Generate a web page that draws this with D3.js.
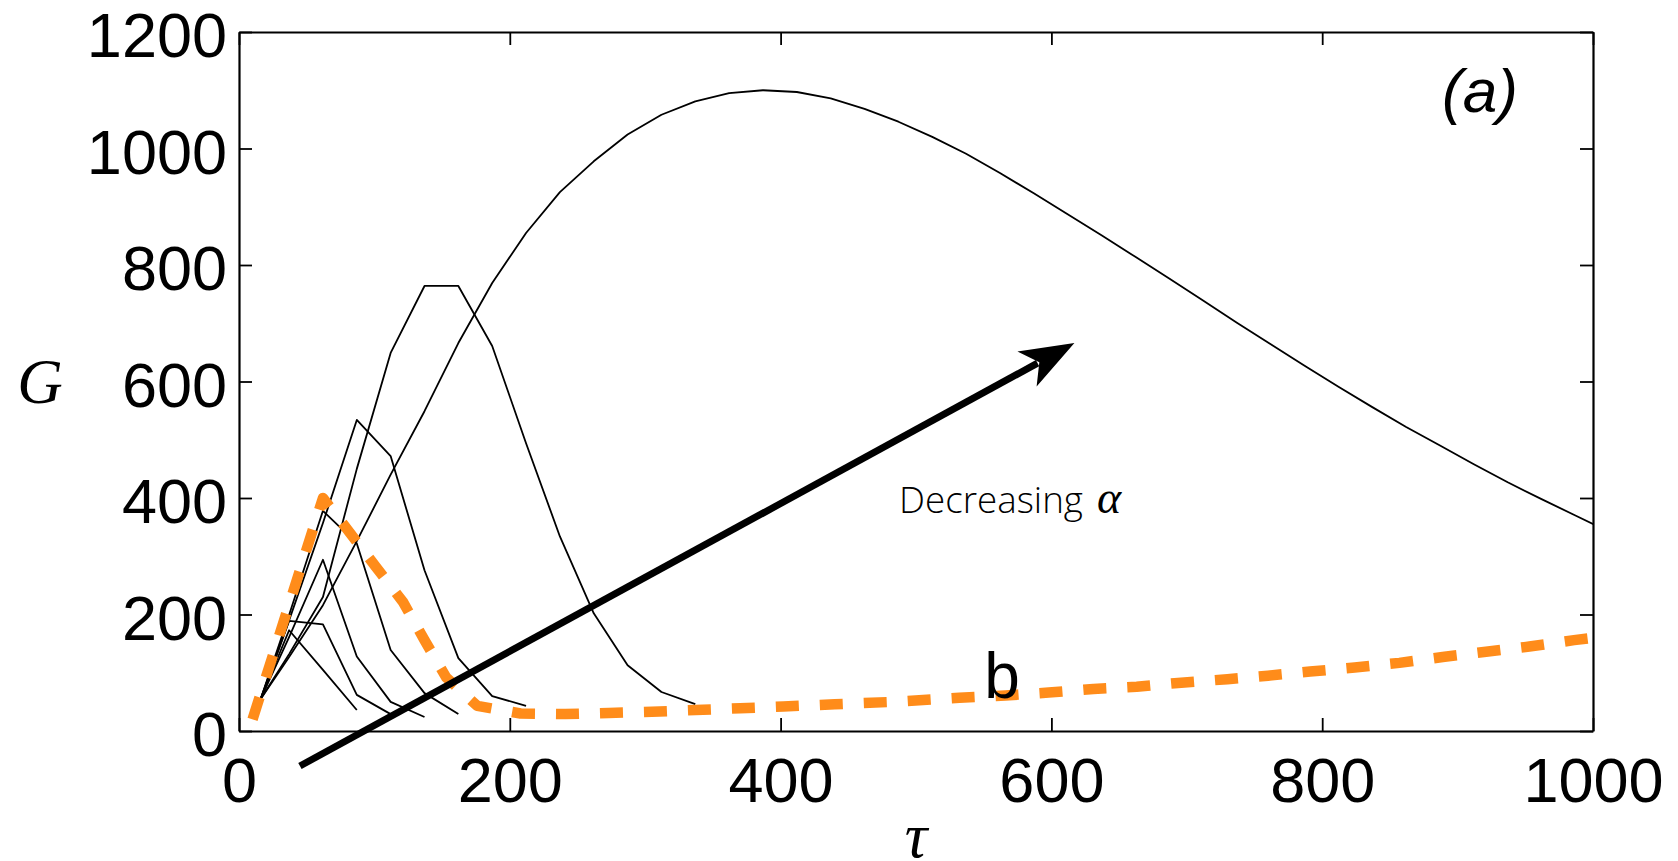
<!DOCTYPE html>
<html>
<head>
<meta charset="utf-8">
<script src="https://cdn.jsdelivr.net/npm/d3@7"></script>
<style>
  html, body { margin: 0; padding: 0; background: #fff; }
  svg { display: block; }
</style>
</head>
<body>
<div id="chart"></div>
<script>
// sample times shared by the black curves
var tau = [16, 37, 62, 87, 112, 137, 162, 187, 212, 237, 262, 287, 312, 337, 362, 387, 412,
  437, 462, 487, 512, 537, 562, 587, 612, 637, 662, 687, 712, 737, 762, 787, 812, 837, 862,
  887, 912, 937, 962, 987, 1012];

// G for each alpha (largest alpha first)
var gAlpha1 = [55, 173, 105, 36];
var gAlpha2 = [55, 189, 183, 62, 29];
var gAlpha3 = [55, 161, 294, 128, 50, 24];
var gAlpha4 = [55, 199, 378, 322, 139, 65, 29];
var gAlpha5 = [55, 190, 357, 534, 472, 276, 125, 60, 43];
var gAlpha6 = [55, 132, 230, 450, 649, 764, 764, 661, 494, 334, 202, 113, 67, 46];
var gAlpha7 = [55, 127, 216, 326, 440, 549, 666, 769, 855, 925, 978, 1024, 1058, 1081, 1095,
  1100, 1097, 1086, 1068, 1046, 1020, 991, 958, 923, 887, 851, 814, 777, 739, 701, 664, 627,
  591, 556, 522, 490, 458, 427, 398, 370, 342];

// dashed orange curve "b"
var bTau = [10, 62, 82, 101, 121, 137, 153, 176, 208, 241, 273, 305, 337, 370, 402, 440, 483,
  532, 566, 598, 631, 663, 691, 730, 760, 791, 824, 857, 889, 921, 953, 986, 1000];
var bG = [20, 400, 340, 282, 222, 156, 92, 43, 30, 29, 31, 33, 36, 39, 42, 46, 50,
  57, 61, 66, 72, 76, 82, 89, 95, 102, 109, 117, 127, 136, 145, 156, 160];

var xTicks = [0, 200, 400, 600, 800, 1000];
var yTicks = [0, 200, 400, 600, 800, 1000, 1200];

// arrow annotation, in data units
var arrowFrom = [45, -60];
var arrowTo = [617, 666];

var w = 1678, h = 861;
var margin = {top: 32, right: 85, bottom: 130, left: 239};

var x = d3.scaleLinear().domain([0, 1000]).range([margin.left, w - margin.right]);
var y = d3.scaleLinear().domain([0, 1200]).range([h - margin.bottom, margin.top]);

var svg = d3.select("#chart").append("svg")
    .attr("width", w)
    .attr("height", h)
    .style("background", "#fff");

svg.append("clipPath").attr("id", "plotclip")
  .append("rect")
    .attr("x", x(0)).attr("y", y(1200))
    .attr("width", x(1000) - x(0)).attr("height", y(0) - y(1200));

var line = d3.line()
    .x(function(d) { return x(d[0]); })
    .y(function(d) { return y(d[1]); });

var curves = [gAlpha1, gAlpha2, gAlpha3, gAlpha4, gAlpha5, gAlpha6, gAlpha7];

var plot = svg.append("g").attr("clip-path", "url(#plotclip)");

plot.selectAll("path.curve")
    .data(curves)
    .enter()
    .append("path")
    .attr("class", "curve")
    .attr("d", function(g) {
        return line(g.map(function(v, i) { return [tau[i], v]; }));
    })
    .attr("fill", "none")
    .attr("stroke", "#000")
    .attr("stroke-width", 1.8)
    .attr("stroke-linejoin", "round");

plot.append("path")
    .datum(bTau.map(function(t, i) { return [t, bG[i]]; }))
    .attr("d", line)
    .attr("fill", "none")
    .attr("stroke", "#ff8c1a")
    .attr("stroke-width", 10.5)
    .attr("stroke-dasharray", "23,21")
    .attr("stroke-linejoin", "round");

// axes: labels on bottom/left, bare inward ticks on top/right
var tickFont = "'Liberation Sans', Arial, sans-serif";
var fmt = d3.format("d");

var xAxis = svg.append("g")
    .attr("transform", "translate(0," + y(0) + ")")
    .call(d3.axisBottom(x).tickValues(xTicks).tickFormat(fmt)
        .tickSize(-13).tickSizeOuter(0).tickPadding(26));

var yAxis = svg.append("g")
    .attr("transform", "translate(" + x(0) + ",0)")
    .call(d3.axisLeft(y).tickValues(yTicks).tickFormat(fmt)
        .tickSize(-13).tickSizeOuter(0).tickPadding(12));

svg.append("g")
    .attr("transform", "translate(0," + y(1200) + ")")
    .call(d3.axisTop(x).tickValues(xTicks).tickSize(-13).tickSizeOuter(0).tickFormat(""));

svg.append("g")
    .attr("transform", "translate(" + x(1000) + ",0)")
    .call(d3.axisRight(y).tickValues(yTicks).tickSize(-13).tickSizeOuter(0).tickFormat(""));

svg.selectAll(".domain").attr("stroke", "#000").attr("stroke-width", 2.2);
svg.selectAll(".tick line").attr("stroke", "#000").attr("stroke-width", 1.8);
svg.selectAll(".tick text")
    .attr("fill", "#000")
    .style("font-family", tickFont)
    .style("font-size", "63px");
yAxis.selectAll(".tick text").attr("dy", "0.39em");

// arrow
var p0 = [x(arrowFrom[0]), y(arrowFrom[1])];
var p1 = [x(arrowTo[0]), y(arrowTo[1])];
var ang = Math.atan2(p1[1] - p0[1], p1[0] - p0[0]);
function along(a, b) {
    return [p1[0] + a * Math.cos(ang) - b * Math.sin(ang),
            p1[1] + a * Math.sin(ang) + b * Math.cos(ang)];
}
var shaftEnd = along(-42, 0);
svg.append("line")
    .attr("x1", p0[0]).attr("y1", p0[1])
    .attr("x2", shaftEnd[0]).attr("y2", shaftEnd[1])
    .attr("stroke", "#000")
    .attr("stroke-width", 7);
svg.append("path")
    .attr("d", "M" + [p1, along(-54, -20), along(-40, 0), along(-54, 20)].join("L") + "Z")
    .attr("fill", "#000");

// labels
svg.append("text")
    .attr("x", 899).attr("y", 513)
    .text("Decreasing")
    .style("font-family", "'Open Sans', 'Noto Sans', sans-serif")
    .style("font-weight", 300)
    .style("font-size", "37px")
    .attr("textLength", 184)
    .attr("lengthAdjust", "spacingAndGlyphs");
svg.append("text")
    .attr("x", 1097).attr("y", 513)
    .text("α")
    .style("font-family", "'Liberation Serif', 'DejaVu Serif', serif")
    .style("font-style", "italic")
    .style("font-size", "46px");

svg.append("text")
    .attr("x", 1002).attr("y", 698)
    .attr("text-anchor", "middle")
    .text("b")
    .style("font-family", tickFont)
    .style("font-size", "64px");

svg.append("text")
    .attr("x", 1480).attr("y", 112)
    .attr("text-anchor", "middle")
    .text("(a)")
    .style("font-family", tickFont)
    .style("font-style", "italic")
    .style("font-size", "62px");

svg.append("text")
    .attr("x", 40).attr("y", 403)
    .attr("text-anchor", "middle")
    .text("G")
    .style("font-family", "'Liberation Serif', 'DejaVu Serif', serif")
    .style("font-style", "italic")
    .style("font-size", "63px");

svg.append("text")
    .attr("x", (x(0) + x(1000)) / 2).attr("y", 857)
    .attr("text-anchor", "middle")
    .text("τ")
    .style("font-family", "'Liberation Serif', 'DejaVu Serif', serif")
    .style("font-style", "italic")
    .style("font-size", "63px");
</script>
</body>
</html>
